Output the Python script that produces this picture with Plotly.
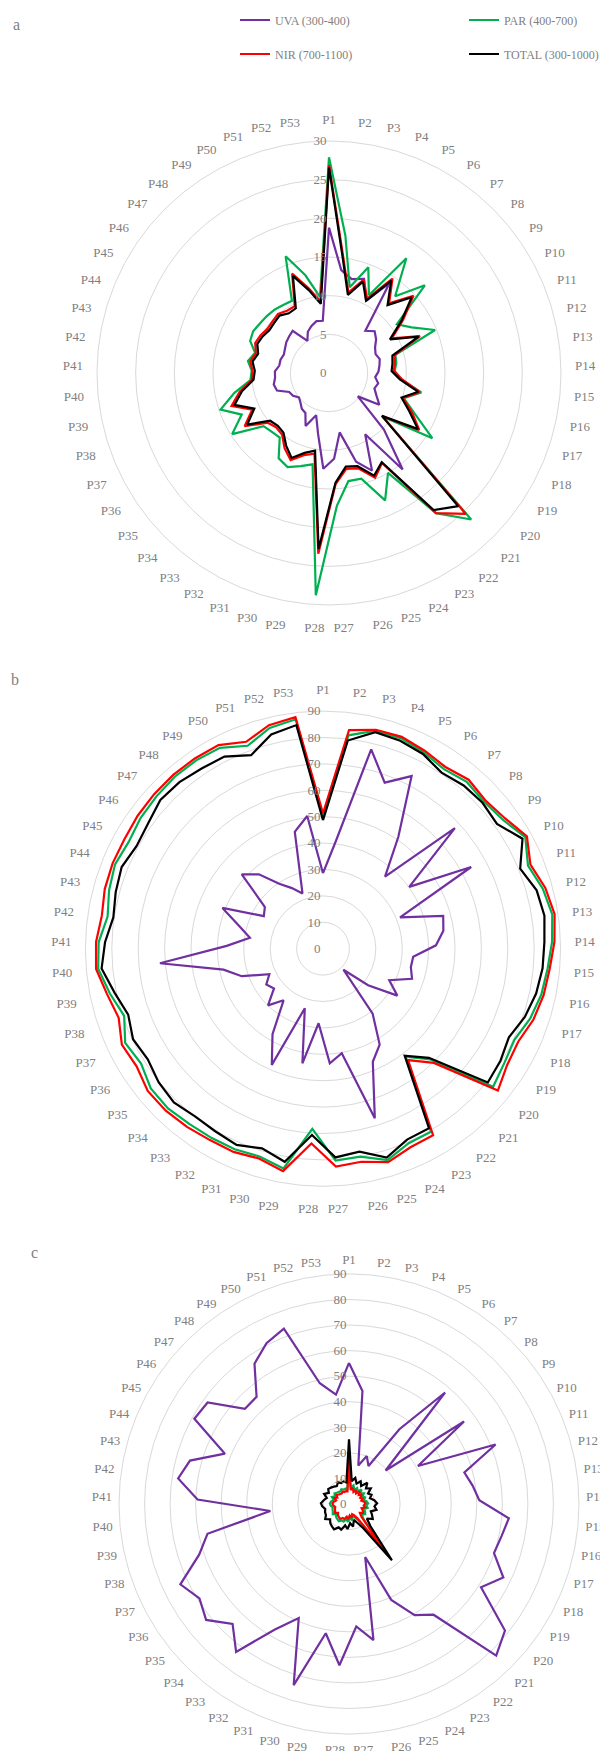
import plotly.graph_objects as go

# Category (spoke) labels
categories = [f"P{i}" for i in range(1, 54)]

# ---- Panel a ----
uva_a = [18.8, 13.4, 12.5, 13.0, 10.5, 14.0, 7.2, 8.0, 7.5, 6.8, 6.5, 6.8, 6.6, 6.4, 6.0, 6.5, 6.2, 6.8,
         7.7, 4.8, 10.2, 15.7, 9.2, 13.8, 12.0, 7.8, 11.1, 12.4, 8.0, 5.7, 7.5, 6.0, 5.8, 5.3, 5.0, 5.5,
         5.7, 7.1, 7.3, 7.0, 7.0, 6.5, 6.5, 6.3, 6.5, 6.8, 7.0, 7.2, 5.0, 6.0, 6.5, 6.9, 6.8]
par_a = [27.9, 17.9, 11.4, 14.6, 11.3, 17.9, 13.1, 16.8, 10.8, 12.2, 14.8, 8.9, 8.8, 8.5, 9.4, 12.2, 10.2,
         12.3, 15.8, 8.9, 26.4, 22.8, 15.0, 18.0, 14.3, 14.2, 17.2, 28.8, 12.0, 12.6, 13.3, 12.8, 10.5,
         10.6, 10.9, 14.8, 12.5, 14.8, 12.5, 10.2, 10.0, 10.6, 9.9, 11.0, 11.2, 11.0, 10.9, 10.8, 10.6,
         10.5, 16.1, 13.0, 9.9]
nir_a = [26.9, 15.3, 10.7, 12.9, 10.8, 14.7, 11.9, 14.8, 11.8, 9.3, 12.7, 8.8, 8.6, 8.4, 9.5, 12.0, 10.1,
         11.9, 13.8, 8.9, 25.4, 22.8, 13.5, 14.8, 12.9, 12.6, 14.4, 23.4, 10.6, 11.1, 12.3, 11.3, 10.0,
         9.8, 10.2, 12.9, 11.0, 13.3, 11.8, 10.0, 9.9, 10.3, 9.8, 10.3, 10.1, 9.8, 9.9, 10.1, 9.7, 9.7,
         13.7, 11.3, 9.3]
total_a = [26.6, 15.0, 10.4, 12.6, 10.5, 14.4, 11.6, 14.5, 11.5, 9.0, 12.5, 8.5, 8.3, 8.1, 9.2, 11.8, 9.9,
           11.5, 13.6, 8.8, 24.0, 22.3, 13.4, 14.5, 12.6, 12.3, 14.2, 22.8, 10.2, 10.8, 12.0, 10.9, 9.7,
           9.5, 9.8, 12.5, 10.7, 12.9, 11.5, 9.8, 9.6, 10.0, 9.5, 10.0, 9.8, 9.5, 9.6, 9.8, 9.3, 9.4,
           13.4, 11.0, 9.0]

# ---- Panel b ----
uva_b = [28.6, 41.0, 77.7, 67.1, 73.5, 51.1, 36.0, 67.7, 40.2, 64.1, 31.5, 47.2, 46.1, 42.8, 34.3, 34.0,
         35.6, 27.8, 33.3, 22.0, 11.1, 31.0, 42.2, 46.8, 67.2, 40.2, 43.5, 28.3, 44.1, 23.6, 48.1, 37.6,
         24.6, 29.9, 23.9, 25.4, 22.5, 32.5, 38.5, 62.0, 36.5, 28.0, 33.0, 41.1, 25.6, 27.1, 41.7, 37.2,
         29.7, 25.8, 22.3, 45.5, 50.6]
par_b = [50.0, 81.4, 85.0, 85.0, 83.6, 82.0, 83.4, 82.6, 83.8, 87.5, 83.8, 86.3, 87.8, 86.8, 85.4, 84.5,
         82.8, 80.3, 81.2, 83.0, 58.5, 51.5, 80.5, 80.5, 83.7, 80.0, 80.4, 68.4, 84.6, 82.3, 83.0, 83.2,
         83.5, 84.3, 84.0, 81.5, 83.0, 79.5, 82.5, 85.5, 85.0, 82.5, 84.0, 85.0, 84.0, 85.0, 85.5, 86.0,
         86.0, 85.5, 82.0, 86.0, 87.5]
nir_b = [51.3, 83.4, 85.3, 85.6, 84.3, 83.0, 84.5, 83.3, 84.8, 88.2, 84.8, 87.3, 88.7, 87.7, 86.2, 85.4,
         84.1, 81.9, 82.5, 85.3, 60.3, 53.1, 82.0, 82.2, 84.5, 82.0, 82.7, 73.9, 85.6, 83.1, 84.1, 84.2,
         84.9, 85.5, 85.5, 83.5, 84.4, 81.7, 83.6, 86.3, 86.0, 84.7, 85.7, 86.0, 85.9, 86.4, 86.7, 86.9,
         86.9, 86.7, 83.6, 87.1, 88.3]
total_b = [48.7, 79.4, 84.4, 84.0, 82.9, 80.4, 81.6, 81.9, 81.1, 86.3, 80.6, 83.9, 84.8, 83.9, 83.5, 82.5,
           80.7, 78.0, 79.5, 80.4, 57.6, 51.0, 79.0, 79.0, 82.7, 78.1, 79.2, 70.7, 82.0, 79.1, 81.2, 80.3,
           79.9, 81.1, 80.2, 78.5, 79.7, 77.9, 80.7, 84.2, 82.6, 80.3, 81.4, 82.3, 80.6, 81.5, 83.5, 83.3,
           82.3, 81.8, 78.2, 83.5, 85.3]

# ---- Panel c ----
uva_c = [55.2, 44.5, 15.5, 20.0, 16.7, 35.3, 57.6, 19.4, 55.4, 30.8, 61.9, 46.8, 48.9, 51.0, 62.8, 61.0,
         59.9, 66.9, 61.1, 78.6, 82.7, 54.5, 50.5, 41.0, 21.7, 54.1, 48.0, 63.2, 51.4, 74.1, 48.8, 57.0,
         72.8, 65.4, 72.0, 69.2, 73.1, 61.9, 56.6, 30.9, 59.3, 67.6, 64.5, 52.4, 69.1, 68.1, 55.2, 55.4,
         66.2, 70.7, 73.2, 48.6, 43.1]
par_c = [12.0, 6.5, 7.5, 6.0, 7.0, 6.0, 7.5, 6.2, 7.2, 6.0, 6.8, 6.0, 7.0, 7.5, 6.8, 7.5, 6.2, 7.0, 7.5,
         6.5, 8.0, 22.0, 7.5, 5.8, 5.0, 6.5, 5.5, 7.0, 6.0, 7.2, 7.0, 7.8, 7.5, 7.2, 6.5, 7.5, 7.0, 6.8,
         6.5, 7.2, 7.5, 7.0, 6.2, 7.2, 6.2, 7.0, 6.5, 6.2, 6.0, 6.5, 6.0, 6.2, 6.0]
nir_c = [18.8, 5.5, 6.5, 5.0, 6.0, 5.0, 6.5, 5.2, 6.2, 5.0, 5.8, 5.0, 6.0, 6.5, 5.8, 6.5, 5.2, 6.0, 6.5,
         5.5, 7.0, 24.3, 6.5, 4.8, 4.2, 5.5, 4.5, 6.0, 5.0, 6.2, 6.0, 6.8, 6.5, 6.2, 5.5, 6.5, 6.0, 5.8,
         5.5, 6.2, 6.5, 6.0, 5.2, 6.2, 5.2, 6.0, 5.5, 5.2, 5.0, 5.5, 5.0, 5.2, 5.0]
total_c = [25.3, 9.0, 10.5, 8.5, 10.0, 8.5, 11.0, 9.0, 10.5, 8.5, 9.5, 8.5, 10.0, 11.0, 10.0, 11.0, 9.0,
           10.0, 11.0, 9.0, 12.0, 27.7, 11.0, 8.0, 6.5, 9.0, 7.5, 9.8, 8.5, 10.5, 10.0, 11.5, 11.0, 10.5,
           9.5, 11.0, 10.0, 9.9, 9.5, 10.5, 11.0, 10.0, 9.0, 10.5, 9.0, 10.0, 9.5, 9.0, 8.5, 9.5, 8.7,
           9.1, 8.5]

series_names = ["UVA (300-400)", "PAR (400-700)", "NIR (700-1100)", "TOTAL (300-1000)"]
series_colors = ["#7030A0", "#00B050", "#FF0000", "#000000"]
legend_ids = ["legend", "legend2", "legend3", "legend4"]

panels = [
    ("polar", [uva_a, par_a, nir_a, total_a]),
    ("polar2", [uva_b, par_b, nir_b, total_b]),
    ("polar3", [uva_c, par_c, nir_c, total_c]),
]

FONT = "Liberation Serif"
GREY = "#7f7f7f"
GRID = "#d9d9d9"

fig = go.Figure()
for p_idx, (subplot, data) in enumerate(panels):
    for s_idx, values in enumerate(data):
        fig.add_trace(go.Scatterpolar(
            r=values + values[:1],
            theta=categories + categories[:1],
            mode="lines",
            line=dict(color=series_colors[s_idx], width=2.2),
            name=series_names[s_idx],
            subplot=subplot,
            showlegend=(p_idx == 0),
            legend=legend_ids[s_idx],
            hoverinfo="skip",
        ))


def polar_layout(domain_x, domain_y, rmax, step, label_gap=11):
    return dict(
        domain=dict(x=domain_x, y=domain_y),
        bgcolor="white",
        angularaxis=dict(
            direction="clockwise", rotation=90, showgrid=False,
            showline=True, linecolor=GRID, linewidth=1,
            ticks="outside", ticklen=label_gap, tickcolor="rgba(0,0,0,0)",
            tickfont=dict(family=FONT, size=13, color=GREY),
        ),
        radialaxis=dict(
            range=[0, rmax], dtick=step, angle=90, tickangle=90,
            side="counterclockwise", showline=False, ticks="",
            gridcolor=GRID, gridwidth=1,
            tickfont=dict(family=FONT, size=13, color=GREY),
        ),
    )


W, H = 600, 1751


def legend_box(x_px, y_px):
    return dict(x=x_px / W, y=1 - y_px / H, xanchor="left", yanchor="middle",
                font=dict(family=FONT, size=12, color=GREY),
                bgcolor="rgba(0,0,0,0)", borderwidth=0)


def panel_tag(text, x_px, y_px):
    return dict(text=text, x=x_px / W, y=1 - y_px / H, xref="paper", yref="paper",
                xanchor="center", yanchor="middle", showarrow=False,
                font=dict(family=FONT, size=16, color=GREY))


fig.update_layout(
    width=W, height=H,
    margin=dict(l=0, r=0, t=0, b=0, autoexpand=False),
    paper_bgcolor="white",
    polar=polar_layout([97 / W, 561 / W], [1 - 605 / H, 1 - 141 / H], 30, 5),
    polar2=polar_layout([85.4 / W, 560.6 / W], [1 - 1186.3 / H, 1 - 711.1 / H], 90, 10),
    polar3=polar_layout([118 / W, 580 / W], [1 - 1734 / H, 1 - 1274 / H], 90, 10, label_gap=4),
    legend=legend_box(235, 20),
    legend2=legend_box(464, 20),
    legend3=legend_box(235, 54),
    legend4=legend_box(464, 54),
    annotations=[
        panel_tag("a", 16, 24),
        panel_tag("b", 15, 679),
        panel_tag("c", 34, 1252),
    ],
)

fig.write_html("out.html")
